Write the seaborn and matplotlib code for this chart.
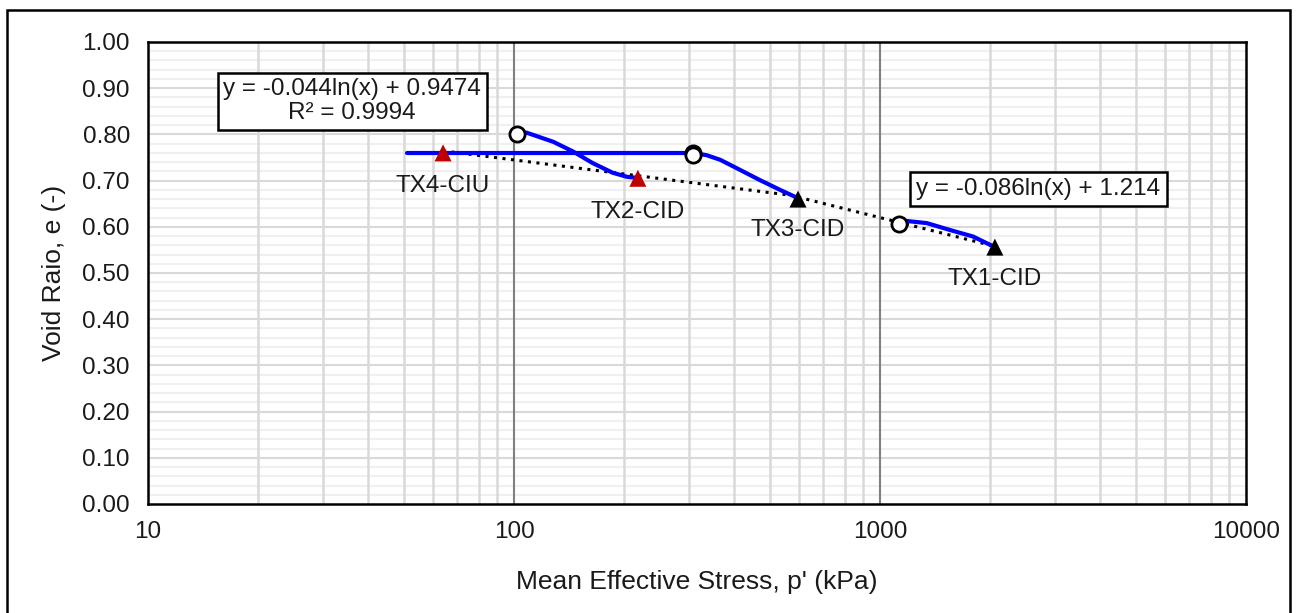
import numpy as np
import pandas as pd
import seaborn as sns
import matplotlib.pyplot as plt
from matplotlib.patches import Rectangle
from matplotlib.ticker import FixedLocator, NullFormatter, MultipleLocator

sns.set_theme(style="white")
plt.rcParams['font.family'] = ['Liberation Sans', 'DejaVu Sans']

# test paths (p' kPa, void ratio e)
tx4_p = [308, 51]
tx4_e = [0.760, 0.760]
tx2_p = [102, 108, 128, 145, 164, 186, 204, 217]
tx2_e = [0.800, 0.804, 0.784, 0.763, 0.738, 0.717, 0.708, 0.706]
tx3_p = [308, 336, 366, 415, 470, 533, 597]
tx3_e = [0.760, 0.755, 0.745, 0.723, 0.701, 0.680, 0.662]
tx1_p = [1127, 1170, 1342, 1554, 1795, 2060]
tx1_e = [0.606, 0.613, 0.608, 0.593, 0.579, 0.556]

# start points (open circles)
start_p = [102, 308, 308, 1127]
start_e = [0.800, 0.760, 0.755, 0.606]

# end points (triangles)
names = ["TX4-CIU", "TX2-CID", "TX3-CID", "TX1-CID"]
end_p = [64, 218, 597, 2060]
end_e = [0.760, 0.705, 0.660, 0.556]
end_col = ["#c00000", "#c00000", "black", "black"]

# trendlines e = a*ln(p) + b
fit1_a, fit1_b = -0.044, 0.9474
fit2_a, fit2_b = -0.086, 1.214

fs = 17.5

fig = plt.figure(figsize=(12.98, 6.13), dpi=100)
ax = fig.add_axes([148/1298, 1-504/613, (1246-148)/1298, (504-42)/613])

# trendlines
p1 = np.geomspace(end_p[0], end_p[2], 50)
p2 = np.geomspace(end_p[2], end_p[3], 50)
ax.plot(p1, fit1_a*np.log(p1) + fit1_b, color="black", ls=(0, (1, 1.8)), lw=2.2, zorder=3)
ax.plot(p2, fit2_a*np.log(p2) + fit2_b, color="black", ls=(0, (1, 1.8)), lw=2.2, zorder=3)

for p, e in [(tx4_p, tx4_e), (tx2_p, tx2_e), (tx3_p, tx3_e), (tx1_p, tx1_e)]:
    sns.lineplot(x=p, y=e, sort=False, estimator=None, color="#0000ff", lw=3, ax=ax, zorder=4)

sns.scatterplot(x=start_p, y=start_e, marker="o", s=120, facecolor="white",
                edgecolor="black", linewidth=2, ax=ax, zorder=5)
sns.scatterplot(x=end_p, y=end_e, marker="^", s=150, hue=names,
                palette=dict(zip(names, end_col)), edgecolor="none", legend=False, ax=ax, zorder=6)

label_off = [-0.072, -0.072, -0.068, -0.07]
for n, p, e, o in zip(names, end_p, end_e, label_off):
    ax.text(p, e + o, n, ha="center", va="center", fontsize=fs, color="#1a1a1a", zorder=7)

ax.set_xscale("log")
ax.set_xlim(10, 10000)
ax.set_ylim(0, 1.0)
ax.set_xticks([10, 100, 1000, 10000])
ax.set_xticklabels(["10", "100", "1000", "10000"])
ax.xaxis.set_minor_locator(FixedLocator([m*10**d for d in range(1, 4) for m in range(2, 10)]))
ax.xaxis.set_minor_formatter(NullFormatter())
ax.yaxis.set_major_locator(MultipleLocator(0.1))
ax.yaxis.set_minor_locator(MultipleLocator(0.02))
ax.yaxis.set_major_formatter(plt.FuncFormatter(lambda v, _: f"{v:.2f}"))
ax.tick_params(axis="both", which="both", length=0, labelsize=fs, colors="#1a1a1a")
ax.tick_params(axis="x", pad=12)
ax.tick_params(axis="y", pad=13)

ax.grid(False)
for y in np.arange(0.02, 1.0, 0.02):
    major = abs(round(y*10) - y*10) < 1e-6
    ax.axhline(y, color="#d9d9d9" if major else "#f0f0f0", lw=1.5, zorder=0)
for x in [m*10**d for d in range(1, 4) for m in range(2, 10)]:
    ax.axvline(x, color="#d9d9d9", lw=1.8, zorder=0)
for x in [100, 1000]:
    ax.axvline(x, color="#808080", lw=1.5, zorder=1)

for s in ax.spines.values():
    s.set_color("black")
    s.set_linewidth(1.8)

ax.set_xlabel("Mean Effective Stress, p' (kPa)", fontsize=19, color="#1a1a1a", labelpad=20)
ax.set_ylabel("Void Raio, e (-)", fontsize=19, color="#1a1a1a", labelpad=12)

ax.text(0.186, 0.872, "y = -0.044ln(x) + 0.9474\nR² = 0.9994", transform=ax.transAxes,
        ha="center", va="center", fontsize=fs, linespacing=1.12, color="#1a1a1a",
        bbox=dict(boxstyle="square,pad=0.22", fc="white", ec="black", lw=1.8), zorder=8)
ax.text(0.811, 0.681, "y = -0.086ln(x) + 1.214", transform=ax.transAxes,
        ha="center", va="center", fontsize=fs, color="#1a1a1a",
        bbox=dict(boxstyle="square,pad=0.25", fc="white", ec="black", lw=1.8), zorder=8)

fig.patches.append(Rectangle((7/1298, -0.05), (1290-7)/1298, 1.05 - 10/613, transform=fig.transFigure,
                             fill=False, ec="black", lw=1.8))

fig.savefig("out.png", dpi=100)
